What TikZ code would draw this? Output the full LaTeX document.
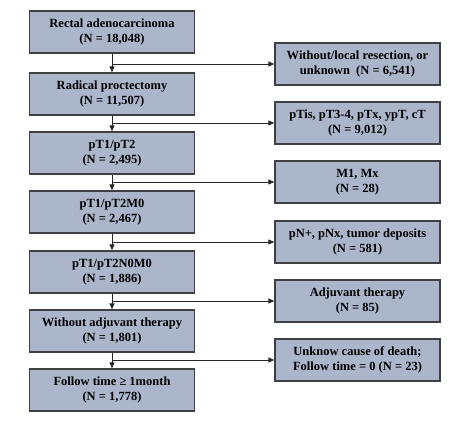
\documentclass[tikz,border=0pt]{standalone}
\usepackage{fontspec}
\setmainfont{Liberation Serif}
\usetikzlibrary{arrows.meta}
\definecolor{boxfill}{RGB}{172,182,203}
\definecolor{boxline}{RGB}{64,64,68}
\begin{document}
\begin{tikzpicture}[x=1pt,y=-1pt,
  box/.style={draw=boxline, fill=boxfill, line width=1.3pt, minimum width=165pt, minimum height=42pt,
    align=center, inner sep=2pt, font=\fontsize{12.5}{15.5}\selectfont\bfseries},
  arr/.style={draw=black!85, line width=0.9pt, -{Triangle[length=6pt,width=5pt]}}]
\useasboundingbox (0,0) rectangle (474,444);
\node[box] (l1) at (112,32) {Rectal adenocarcinoma\\(N = 18,048)};
\node[box] (l2) at (112,94) {Radical proctectomy\\(N = 11,507)};
\node[box] (l3) at (112,153) {pT1/pT2\\(N = 2,495)};
\node[box] (l4) at (112,212) {pT1/pT2M0\\(N = 2,467)};
\node[box] (l5) at (112,272) {pT1/pT2N0M0\\(N = 1,886)};
\node[box] (l6) at (112,331) {Without adjuvant therapy\\(N = 1,801)};
\node[box] (l7) at (112,390) {Follow time ≥ 1month\\(N = 1,778)};
\node[box] (r1) at (357.5,64) {Without/local resection, or\\unknown\ \ (N = 6,541)};
\node[box] (r2) at (357.5,123) {pTis, pT3-4, pTx, ypT, cT\\(N = 9,012)};
\node[box] (r3) at (357.5,182) {M1, Mx\\(N = 28)};
\node[box] (r4) at (357.5,242) {pN+, pNx, tumor deposits\\(N = 581)};
\node[box] (r5) at (357.5,301) {Adjuvant therapy\\(N = 85)};
\node[box] (r6) at (357.5,360) {Unknow cause of death;\\Follow time = 0 (N = 23)};
\foreach \a/\b/\r in {l1/l2/r1,l2/l3/r2,l3/l4/r3,l4/l5/r4,l5/l6/r5,l6/l7/r6}{
  \draw[arr] (\a.south) -- (\b.north);
  \draw[arr] (\a.south |- \r.west) -- (\r.west);
}
\end{tikzpicture}
\end{document}
